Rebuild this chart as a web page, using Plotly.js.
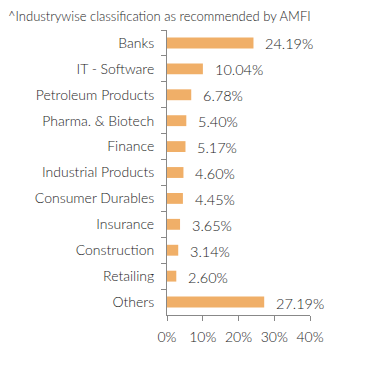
<!DOCTYPE html>
<html>
<head>
<meta charset="utf-8">
<script src="https://cdn.plot.ly/plotly-3.0.1.min.js"></script>
<style>html,body{margin:0;padding:0;background:#fff;}#chart{width:391px;height:367px;}</style>
</head>
<body>
<div id="chart"></div>
<script>
const categories = ["Banks","IT - Software","Petroleum Products","Pharma. & Biotech","Finance","Industrial Products","Consumer Durables","Insurance","Construction","Retailing","Others"];
const values = [24.19,10.04,6.78,5.40,5.17,4.60,4.45,3.65,3.14,2.60,27.19];
const tickVals = [0,10,20,30,40];
const tickText = ["0%","10%","20%","30%","40%"];
const titleText = "^Industrywise classification as recommended by AMFI";

const fontFam = "Lato, 'Open Sans', sans-serif";
const txtColor = "#1e1e1e";
const trace = {
  type: "bar",
  orientation: "h",
  x: values,
  y: categories,
  marker: {color: "#F0AF68"},
  width: 0.42,
  hoverinfo: "none"
};
const annotations = categories.map((c, i) => ({
  x: values[i], y: c, xref: "x", yref: "y",
  text: values[i].toFixed(2) + "%",
  showarrow: false, xanchor: "left", xshift: 10, yshift: -1,
  font: {family: fontFam, size: 14.5, color: txtColor, weight: 300}
}));
const layout = {
  width: 391, height: 367,
  margin: {l: 167, r: 81, t: 30, b: 52},
  paper_bgcolor: "#fff", plot_bgcolor: "#fff",
  showlegend: false,
  title: {text: titleText, x: 8/391, xanchor: "left", xref: "container", y: 0.955, yref: "container", yanchor: "middle",
          font: {family: fontFam, size: 13, color: txtColor, weight: 300}, pad: {l: 0}},
  xaxis: {range: [0, 40], tickvals: tickVals, ticktext: tickText, showgrid: false, zeroline: false,
          showline: true, linecolor: "#888", linewidth: 1, ticks: "outside", ticklen: 5, tickcolor: "#888",
          ticklabelstandoff: 4,
          tickfont: {family: fontFam, size: 14, color: txtColor, weight: 300}, fixedrange: true},
  yaxis: {autorange: "reversed", showgrid: false, zeroline: false, showline: true, linecolor: "#888", linewidth: 1,
          ticks: "outside", ticklen: 5, tickcolor: "#888", tickson: "boundaries", ticklabelstandoff: 9,
          tickfont: {family: fontFam, size: 14, color: txtColor, weight: 300}, fixedrange: true},
  annotations: annotations
};
Plotly.newPlot("chart", [trace], layout, {displayModeBar: false, staticPlot: true});
</script>
</body>
</html>
